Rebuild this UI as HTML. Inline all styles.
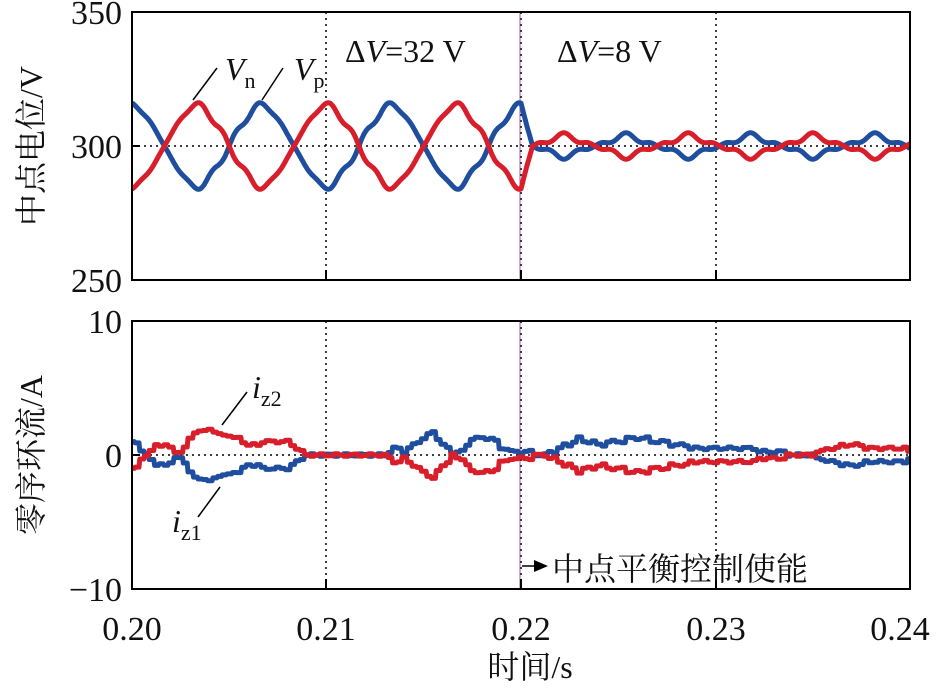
<!DOCTYPE html><html><head><meta charset="utf-8"><style>
body{margin:0;background:#fff;width:940px;height:686px;overflow:hidden}
text{font-family:"Liberation Serif","Noto Serif CJK SC",serif;fill:#111}
.cj{font-family:"Liberation Serif","Noto Serif CJK SC",serif}
</style></head><body>
<svg id="s" width="940" height="686" viewBox="0 0 940 686" xmlns="http://www.w3.org/2000/svg">
<g stroke="#000" stroke-width="1.5" stroke-dasharray="2,4">
<line x1="326" y1="12" x2="326" y2="280"/><line x1="716" y1="12" x2="716" y2="280"/>
<line x1="326" y1="321" x2="326" y2="589"/><line x1="716" y1="321" x2="716" y2="589"/>
<line x1="132" y1="146" x2="910" y2="146"/><line x1="132" y1="455" x2="910" y2="455"/>
<line x1="521" y1="12" x2="521" y2="280"/><line x1="521" y1="321" x2="521" y2="589"/>
</g>
<g stroke="#a05aa0" stroke-width="1"><line x1="520" y1="12" x2="520" y2="280"/><line x1="520" y1="321" x2="520" y2="589"/></g>
<g id="curves"></g>
<g fill="none" stroke="#000" stroke-width="2">
<rect x="132" y="12" width="778" height="268"/><rect x="132" y="321" width="778" height="268"/>
<path d="M132 146h8M132 455h8M326 280v-10M521 280v-10M716 280v-10M326 589v-10M521 589v-10M716 589v-10"/>
</g>
<g stroke="#000" stroke-width="1.5"><line x1="217" y1="68" x2="193" y2="100"/><line x1="283" y1="68" x2="262" y2="100"/>
<line x1="247" y1="392" x2="222" y2="425"/><line x1="220" y1="487" x2="198" y2="517"/>
<line x1="522" y1="566" x2="536" y2="566"/></g>
<path d="M534 560L548 566L534 572Z" fill="#000"/>
<g font-size="34">
<text x="122" y="24" text-anchor="end">350</text><text x="122" y="158" text-anchor="end">300</text><text x="122" y="292" text-anchor="end">250</text>
<text x="122" y="333" text-anchor="end">10</text><text x="122" y="467" text-anchor="end">0</text><text x="122" y="601" text-anchor="end">−10</text>
<text x="132" y="640" text-anchor="middle">0.20</text><text x="326" y="640" text-anchor="middle">0.21</text><text x="521" y="640" text-anchor="middle">0.22</text><text x="716" y="640" text-anchor="middle">0.23</text><text x="900" y="640" text-anchor="middle">0.24</text>
<text x="345" y="62" font-size="32">Δ<tspan font-style="italic">V</tspan>=32 V</text>
<text x="557" y="62" font-size="32">Δ<tspan font-style="italic">V</tspan>=8 V</text>
<text x="225" y="80" font-style="italic" font-size="32">V<tspan font-size="22" font-style="normal" dy="8">n</tspan></text>
<text x="294" y="80" font-style="italic" font-size="32">V<tspan font-size="22" font-style="normal" dy="8">p</tspan></text>
<text x="252" y="398" font-style="italic" font-size="32">i<tspan font-size="22" font-style="normal" dy="8">z2</tspan></text>
<text x="172" y="532" font-style="italic" font-size="32">i<tspan font-size="22" font-style="normal" dy="8">z1</tspan></text>
<text class="cj" x="552" y="580" font-size="32">中点平衡控制使能</text>
<text class="cj" x="530" y="678" text-anchor="middle" font-size="32">时间/s</text>
<text class="cj" transform="translate(42,146) rotate(-90)" text-anchor="middle" font-size="32">中点电位/V</text>
<text class="cj" transform="translate(42,455) rotate(-90)" text-anchor="middle" font-size="32">零序环流/A</text>
</g>
</svg>
<script>
var g=document.getElementById('curves');
function X(ms){return 132+ms*19.45;}
function f(th){return Math.cos(th)+0.04*Math.cos(3*th)+0.05*Math.cos(5*th)-0.04*Math.sin(6*th);}
function red(ms){var w=2*Math.PI*ms/6.667;
 if(ms<=20)return 300-16*f(w)/1.09;
 var a=300-16*f(w)/1.09;var th=2*Math.PI*(ms-20.6)/6.4;
 var s=300+4.5*Math.sin(th)*(0.75+0.35*Math.cos(4*th));
 var k=Math.min(1,(ms-20)/0.6);return a*(1-k)+s*k;}
function path(fn,col,sc,off){var d='';for(var ms=0;ms<=40;ms+=0.04){var v=fn(ms);d+=(d?'L':'M')+X(ms).toFixed(1)+' '+(off-(v)*sc).toFixed(1);}
 var p=document.createElementNS('http://www.w3.org/2000/svg','path');p.setAttribute('d',d);p.setAttribute('fill','none');p.setAttribute('stroke',col);p.setAttribute('stroke-width','5');p.setAttribute('stroke-linejoin','round');g.appendChild(p);}
path(function(m){return 600-red(m)-300;},'#1f4e9e',2.68,146);
path(function(m){return red(m)-300;},'#d81e2a',2.68,146);
var K=[[0,-1],[0.3,-1],[0.5,-0.3],[0.8,0],[1.2,0.7],[1.6,0.8],[2.0,0.5],[2.4,0],[2.8,0.6],[3.2,1.8],[3.6,1.8],[4.2,2.0],[4.4,1.4],[5,1.4],[5.6,1.2],[6.0,0.8],[6.4,0.7],[6.8,1.1],[7.2,1.1],[7.6,1.0],[8.0,1.0],[8.6,0.5],[9.0,0.1],[10,0],[11,0.1],[13,0],[13.6,-0.5],[14,-0.2],[15.5,-1.7],[16.5,0],[17,-0.3],[17.6,-1.3],[18.5,-1.3],[19,-0.5],[19.5,-0.3],[20,-0.3],[21,0],[22,-0.5],[23,-1.2],[24,-0.8],[25,-1.0],[26,-1.3],[27,-1.0],[28,-0.8],[29,-0.5],[30,-0.5],[31,-0.6],[32,-0.4],[33,-0.3],[34,0],[35,0],[36,0.5],[37,0.8],[38,0.5],[39,0.6],[40,0.3]];
function iz(ms){ms=Math.round(ms/0.25)*0.25;for(var i=1;i<K.length;i++){if(ms<=K[i][0]){var a=K[i-1],b=K[i];var t=(ms-a[0])/(b[0]-a[0]);var v=a[1]+(b[1]-a[1])*t;return Math.round(v*4)/4+0.1*Math.sin(ms*7.3);}}return 0.3;}
path(function(m){return -iz(m);},'#1f4e9e',13.4,455);
path(function(m){return iz(m);},'#d81e2a',13.4,455);
</script>
</body></html>
